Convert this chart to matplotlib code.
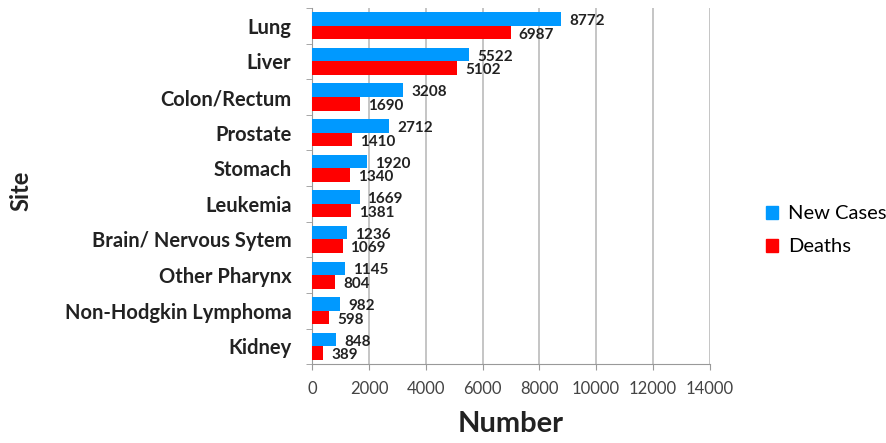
import numpy as np
import matplotlib
import matplotlib.pyplot as plt
from matplotlib.patches import Patch

matplotlib.use("Agg")

# Data
sites = ["Lung", "Liver", "Colon/Rectum", "Prostate", "Stomach", "Leukemia",
         "Brain/ Nervous Sytem", "Other Pharynx", "Non-Hodgkin Lymphoma", "Kidney"]
new_cases = [8772, 5522, 3208, 2712, 1920, 1669, 1236, 1145, 982, 848]
deaths = [6987, 5102, 1690, 1410, 1340, 1381, 1069, 804, 598, 389]

blue = "#0099FF"
red = "#FF0000"

plt.rcParams["font.family"] = ["Lato", "DejaVu Sans"]

fig = plt.figure(figsize=(8.87, 4.43), dpi=100)
ax = fig.add_axes([0.352, 0.178, 0.448, 0.804])

y = np.arange(len(sites))
h = 0.38
ax.barh(y - h / 2, new_cases, height=h, color=blue, zorder=3)
ax.barh(y + h / 2, deaths, height=h, color=red, zorder=3)

for yi, v in zip(y, new_cases):
    ax.text(v + 280, yi - h / 2 + 0.06, str(v), va="center", ha="left",
            fontsize=11, fontweight="bold", color="#222222")
for yi, v in zip(y, deaths):
    ax.text(v + 280, yi + h / 2 + 0.06, str(v), va="center", ha="left",
            fontsize=11, fontweight="bold", color="#222222")

ax.set_ylim(len(sites) - 0.5, -0.5)
ax.set_xlim(0, 14000)
ax.set_xticks(range(0, 14001, 2000))
ax.set_yticks(y)
ax.set_yticklabels(sites, fontsize=14.5, fontweight="bold", color="#222222")
ax.set_yticks(np.arange(-0.5, len(sites), 1), minor=True)
ax.tick_params(axis="y", which="major", length=0, pad=15)
ax.tick_params(axis="y", which="minor", length=4, color="#999999")
ax.tick_params(axis="x", length=4, color="#999999", labelsize=12,
               labelcolor="#444444", pad=8)

ax.grid(axis="x", color="#BBBBBB", linewidth=1.2, zorder=0)
for s in ["top", "right"]:
    ax.spines[s].set_visible(False)
for s in ["left", "bottom"]:
    ax.spines[s].set_color("#999999")

ax.set_xlabel("Number", fontsize=21, fontweight="bold", color="#222222", labelpad=10)
fig.text(0.024, 0.57, "Site", rotation=90, fontsize=17, fontweight="bold",
         color="#222222", ha="center", va="center")

handles = [Patch(color=blue, label="New Cases"), Patch(color=red, label="Deaths")]
fig.legend(handles=handles, loc="center left", bbox_to_anchor=(0.843, 0.48),
           frameon=False, fontsize=14.5, handlelength=0.6, handleheight=0.6,
           labelspacing=0.8, handletextpad=0.5)

fig.savefig("out.png", dpi=100)
